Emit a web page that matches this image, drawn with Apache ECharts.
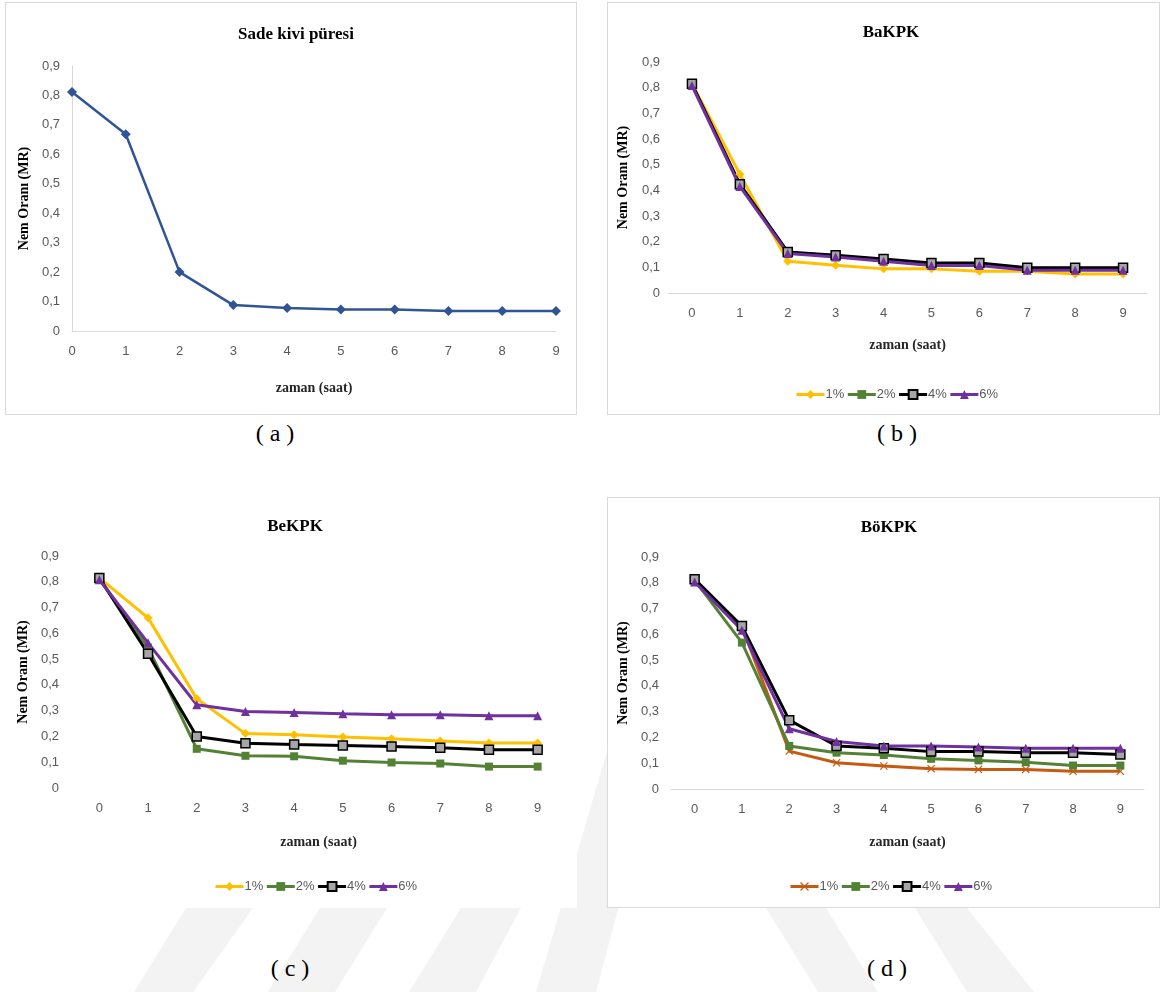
<!DOCTYPE html>
<html>
<head>
<meta charset="utf-8">
<script src="https://cdn.jsdelivr.net/npm/echarts@6/dist/echarts.min.js"></script>
<style>
  body { margin: 0; background: #fff; width: 1163px; height: 992px; position: relative; overflow: hidden; }
  .panel { position: absolute; box-sizing: border-box; background: #fff; }
  .boxed { border: 1px solid #d9d9d9; }
  .cap { position: absolute; font-family: "Liberation Serif", serif; font-size: 24px; color: #000; transform: translateX(-50%); white-space: pre; }
  #wm { position: absolute; left: 0; top: 0; }
</style>
</head>
<body>
<svg id="wm" width="1163" height="992">
  <g fill="#f3f3f3">
    <polygon points="186,908 253,908 193,992 134,992"/>
    <polygon points="320,908 387,908 335,992 268,992"/>
    <polygon points="461,908 521,908 476,992 409,992"/>
    <polygon points="640,640 690,640 596,992 536,992"/>
    <polygon points="766,908 826,908 878,992 818,992"/>
    <polygon points="915,908 967,908 1034,992 967,992"/>
  </g>
</svg>
<div id="pa" class="panel boxed" style="left:5px;top:2px;width:572px;height:413px;"></div>
<div id="pb" class="panel boxed" style="left:607px;top:2px;width:553px;height:413px;"></div>
<div id="pc" class="panel" style="left:5px;top:497px;width:572px;height:411px;"></div>
<div id="pd" class="panel boxed" style="left:607px;top:497px;width:553px;height:411px;"></div>
<div class="cap" style="left:275px;top:420px;">( a )</div>
<div class="cap" style="left:897px;top:420px;">( b )</div>
<div class="cap" style="left:290px;top:955px;">( c )</div>
<div class="cap" style="left:887px;top:955px;">( d )</div>
<script>
// zaman (saat)
var hours = ['0', '1', '2', '3', '4', '5', '6', '7', '8', '9'];
var levels = ['1%', '2%', '4%', '6%'];

// (a) Sade kivi püresi
var plain = [0.812, 0.668, 0.200, 0.088, 0.078, 0.073, 0.073, 0.068, 0.068, 0.068];

// (b) BaKPK
var ba1 = [0.815, 0.463, 0.124, 0.108, 0.094, 0.094, 0.085, 0.085, 0.074, 0.074];
var ba2 = [0.812, 0.420, 0.158, 0.145, 0.130, 0.114, 0.114, 0.096, 0.096, 0.096];
var ba4 = [0.815, 0.424, 0.160, 0.147, 0.132, 0.117, 0.117, 0.098, 0.098, 0.098];
var ba6 = [0.808, 0.415, 0.154, 0.140, 0.124, 0.107, 0.107, 0.089, 0.089, 0.089];

// (c) BeKPK
var be1 = [0.815, 0.660, 0.346, 0.211, 0.207, 0.198, 0.191, 0.182, 0.175, 0.175];
var be2 = [0.812, 0.545, 0.152, 0.125, 0.123, 0.106, 0.099, 0.095, 0.083, 0.083];
var be4 = [0.815, 0.521, 0.200, 0.174, 0.169, 0.165, 0.161, 0.156, 0.148, 0.148];
var be6 = [0.808, 0.563, 0.323, 0.297, 0.293, 0.288, 0.284, 0.284, 0.280, 0.280];

// (d) BöKPK
var bo1 = [0.810, 0.630, 0.147, 0.102, 0.089, 0.079, 0.076, 0.076, 0.069, 0.069];
var bo2 = [0.810, 0.568, 0.167, 0.141, 0.132, 0.117, 0.111, 0.104, 0.091, 0.091];
var bo4 = [0.814, 0.632, 0.267, 0.167, 0.158, 0.145, 0.145, 0.141, 0.141, 0.134];
var bo6 = [0.803, 0.616, 0.234, 0.184, 0.167, 0.167, 0.163, 0.158, 0.158, 0.158];

var tickFont = '"Liberation Sans Narrow", "Liberation Sans", sans-serif';
var serif = '"Liberation Serif", "Times New Roman", serif';
var crossPath = 'path://M1,0 L5,4 L9,0 L10,1 L6,5 L10,9 L9,10 L5,6 L1,10 L0,9 L4,5 L0,1 Z';

function fmtTick(v){
    if (v == 0) return '0';
    return v.toFixed(1).replace('.', ',');
}

function baseOption(cfg){
    return {
        animation: false,
        title: {
            text: cfg.title, left: cfg.titleX, top: cfg.titleY, textAlign: 'center',
            textStyle: {fontFamily: serif, fontWeight: 'bold', fontSize: 17, color: '#000'}
        },
        grid: cfg.grid,
        xAxis: {
            type: 'category', data: hours, boundaryGap: cfg.gap,
            name: 'zaman (saat)', nameLocation: 'middle', nameGap: cfg.xNameGap,
            nameTextStyle: {fontFamily: serif, fontWeight: 'bold', fontSize: 14, color: '#262626'},
            axisLine: {show: cfg.xLine, lineStyle: {color: '#d9d9d9', width: 1}},
            axisTick: {show: false},
            axisLabel: {fontFamily: tickFont, fontSize: 13, color: '#595959', margin: 14}
        },
        yAxis: {
            type: 'value', min: 0, max: 0.9, interval: 0.1,
            name: 'Nem Oranı (MR)', nameLocation: 'middle', nameGap: cfg.yNameGap, nameRotate: 90,
            nameTextStyle: {fontFamily: serif, fontWeight: 'bold', fontSize: 14, color: '#000'},
            axisLine: {show: cfg.yLine, lineStyle: {color: '#d9d9d9'}},
            axisTick: {show: false},
            splitLine: {show: false},
            axisLabel: {fontFamily: tickFont, fontSize: 13, color: '#595959', margin: cfg.yMargin, formatter: fmtTick}
        },
        series: []
    };
}

function lineSeries(name, data, color, symbol, size, border){
    return {
        name: name, type: 'line', data: data,
        symbol: symbol, symbolSize: size, showSymbol: true,
        lineStyle: {color: color, width: 3},
        itemStyle: border ? {color: '#a6a6a6', borderColor: border, borderWidth: 1.5} : {color: color, borderWidth: 0},
        color: color
    };
}

function legendCfg(x, y){
    return {
        data: levels, left: x, top: y, itemWidth: 28, itemHeight: 11, itemGap: 2,
        lineStyle: {width: 3},
        textStyle: {fontFamily: tickFont, fontSize: 13, color: '#595959', padding: [0, 0, 0, -4]}
    };
}

// (a)
var chartA = echarts.init(document.getElementById('pa'));
var optA = baseOption({
    title: 'Sade kivi püresi', titleX: 285, titleY: 18, gap: false, xLine: true, yLine: true,
    grid: {left: 66, right: 20, top: 63, bottom: 83},
    xNameGap: 50, yNameGap: 40, yMargin: 12
});
optA.series.push({
    name: 'Sade', type: 'line', data: plain, symbol: 'diamond', symbolSize: 10,
    lineStyle: {color: '#2f5597', width: 2.5}, itemStyle: {color: '#2f5597'}
});
chartA.setOption(optA);

// (b)
var chartB = echarts.init(document.getElementById('pb'));
var optB = baseOption({
    title: 'BaKPK', titleX: 278, titleY: 16, gap: true, xLine: true, yLine: false,
    grid: {left: 50, right: 12, top: 59, bottom: 121},
    xNameGap: 45, yNameGap: 38, yMargin: 8
});
optB.legend = legendCfg(182, 380);
optB.series.push(lineSeries('1%', ba1, '#ffc000', 'diamond', 9));
optB.series.push(lineSeries('2%', ba2, '#548235', 'rect', 8));
optB.series.push(lineSeries('4%', ba4, '#000000', 'rect', 9, '#000000'));
optB.series.push(lineSeries('6%', ba6, '#7030a0', 'triangle', 9));
chartB.setOption(optB);

// (c)
var chartC = echarts.init(document.getElementById('pc'));
var optC = baseOption({
    title: 'BeKPK', titleX: 285, titleY: 16, gap: true, xLine: false, yLine: false,
    grid: {left: 70, right: 15, top: 59, bottom: 120},
    xNameGap: 47, yNameGap: 38, yMargin: 16
});
optC.legend = legendCfg(204, 378);
optC.series.push(lineSeries('1%', be1, '#ffc000', 'diamond', 9));
optC.series.push(lineSeries('2%', be2, '#548235', 'rect', 8));
optC.series.push(lineSeries('4%', be4, '#000000', 'rect', 9, '#000000'));
optC.series.push(lineSeries('6%', be6, '#7030a0', 'triangle', 9));
chartC.setOption(optC);

// (d)
var chartD = echarts.init(document.getElementById('pd'));
var optD = baseOption({
    title: 'BöKPK', titleX: 276, titleY: 16, gap: true, xLine: true, yLine: false,
    grid: {left: 61, right: 15, top: 59, bottom: 118},
    xNameGap: 46, yNameGap: 36, yMargin: 12
});
optD.legend = legendCfg(176, 377);
optD.series.push(lineSeries('1%', bo1, '#c55a11', crossPath, 8));
optD.series.push(lineSeries('2%', bo2, '#548235', 'rect', 8));
optD.series.push(lineSeries('4%', bo4, '#000000', 'rect', 9, '#000000'));
optD.series.push(lineSeries('6%', bo6, '#7030a0', 'triangle', 9));
chartD.setOption(optD);
</script>
</body>
</html>
